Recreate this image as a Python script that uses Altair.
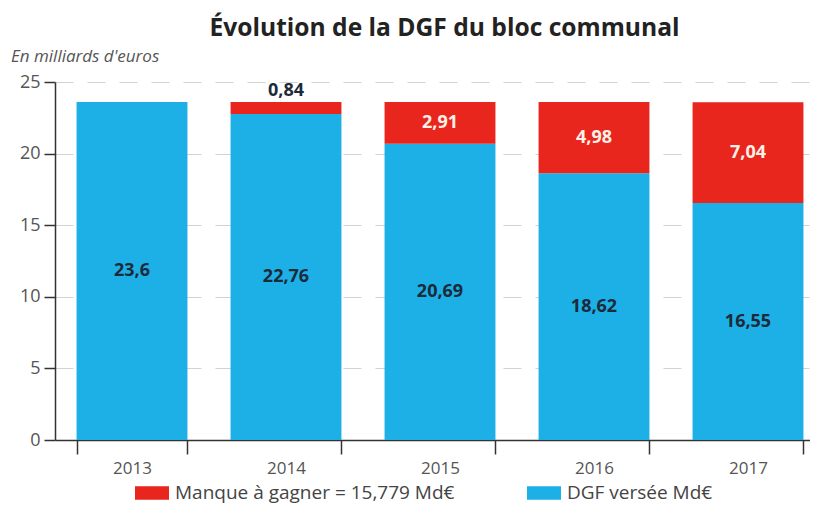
import altair as alt
import pandas as pd

years = ["2013", "2014", "2015", "2016", "2017"]
dgf = [23.6, 22.76, 20.69, 18.62, 16.55]
manque = [0.0, 0.84, 2.91, 4.98, 7.04]
dgf_labels = ["23,6", "22,76", "20,69", "18,62", "16,55"]
manque_labels = ["", "0,84", "2,91", "4,98", "7,04"]
series = ["Manque à gagner = 15,779 Md€", "DGF versée Md€"]
colors = ["#E8261E", "#1CB0E6"]
y_ticks = [0, 5, 10, 15, 20, 25]

rows = []
for i, y in enumerate(years):
    rows.append({"year": y, "series": series[1], "value": dgf[i], "order": 0,
                 "label": dgf_labels[i], "ypos": dgf[i] / 2, "inside": "dark"})
    mid = dgf[i] + manque[i] / 2
    kind = "light"
    if manque[i] < 1.5:
        mid = dgf[i] + manque[i] + 0.8
        kind = "dark"
    rows.append({"year": y, "series": series[0], "value": manque[i], "order": 1,
                 "label": manque_labels[i], "ypos": mid, "inside": kind})
df = pd.DataFrame(rows)

FONT = "Open Sans"

base = alt.Chart(df)

bars = base.mark_bar().encode(
    x=alt.X("year:N", title=None, sort=years,
            scale=alt.Scale(paddingInner=0.28, paddingOuter=0.14, range=[0, 770]),
            axis=alt.Axis(labelAngle=0, labelFontSize=17, labelColor="#555",
                          labelFont=FONT, labelPadding=6, tickBand="extent",
                          tickSize=14, tickColor="#333", domainColor="#333",
                          domainWidth=1.5, tickWidth=1.5, grid=False)),
    y=alt.Y("value:Q", title=None, stack="zero",
            scale=alt.Scale(domain=[0, 25], nice=False),
            axis=alt.Axis(values=y_ticks, labelFontSize=18, labelColor="#555",
                          labelFont=FONT, tickSize=11, tickColor="#333",
                          domainColor="#333", domainWidth=1.5, tickWidth=1.5,
                          labelPadding=4, grid=True, gridColor="#d2d2d2",
                          gridDash=[18, 14], gridWidth=1.2)),
    color=alt.Color("series:N", sort=series,
                    scale=alt.Scale(domain=series, range=colors),
                    legend=alt.Legend(title=None, orient="none", direction="horizontal",
                                      legendX=80, legendY=394, columnPadding=72,
                                      symbolType="M-1,-0.4H1V0.4H-1Z", symbolSize=1156,
                                      symbolStrokeWidth=0, symbolOpacity=1,
                                      labelFontSize=19, labelColor="#444",
                                      labelFont=FONT, labelOffset=6, labelLimit=400)),
    order=alt.Order("order:Q"),
)

labels = base.mark_text(fontSize=18, fontWeight="bold", font=FONT).encode(
    x=alt.X("year:N", sort=years),
    y=alt.Y("ypos:Q"),
    text="label:N",
    color=alt.Color("inside:N", scale=alt.Scale(domain=["dark", "light"],
                                                range=["#1d2a3a", "#fdf1e6"]),
                    legend=None),
)

sub = alt.Chart(pd.DataFrame({"t": ["En milliards d'euros"]})).mark_text(
    align="left", baseline="middle", fontSize=17, fontStyle="italic",
    color="#555", font=FONT
).encode(x=alt.value(-44), y=alt.value(-25), text="t:N")

chart = alt.layer(bars, labels, sub).resolve_scale(color="independent").properties(
    width=755, height=358,
    title=alt.Title("Évolution de la DGF du bloc communal", fontSize=24.6,
                    fontWeight="bold", font=FONT, color="#222", anchor="middle",
                    dx=12, offset=6),
    autosize=alt.AutoSizeParams(type="none"),
    padding={"left": 47, "top": 74, "right": 0, "bottom": 66},
).configure_view(stroke=None)

chart.save("out.html", embed_options={"renderer": "svg", "actions": False})
